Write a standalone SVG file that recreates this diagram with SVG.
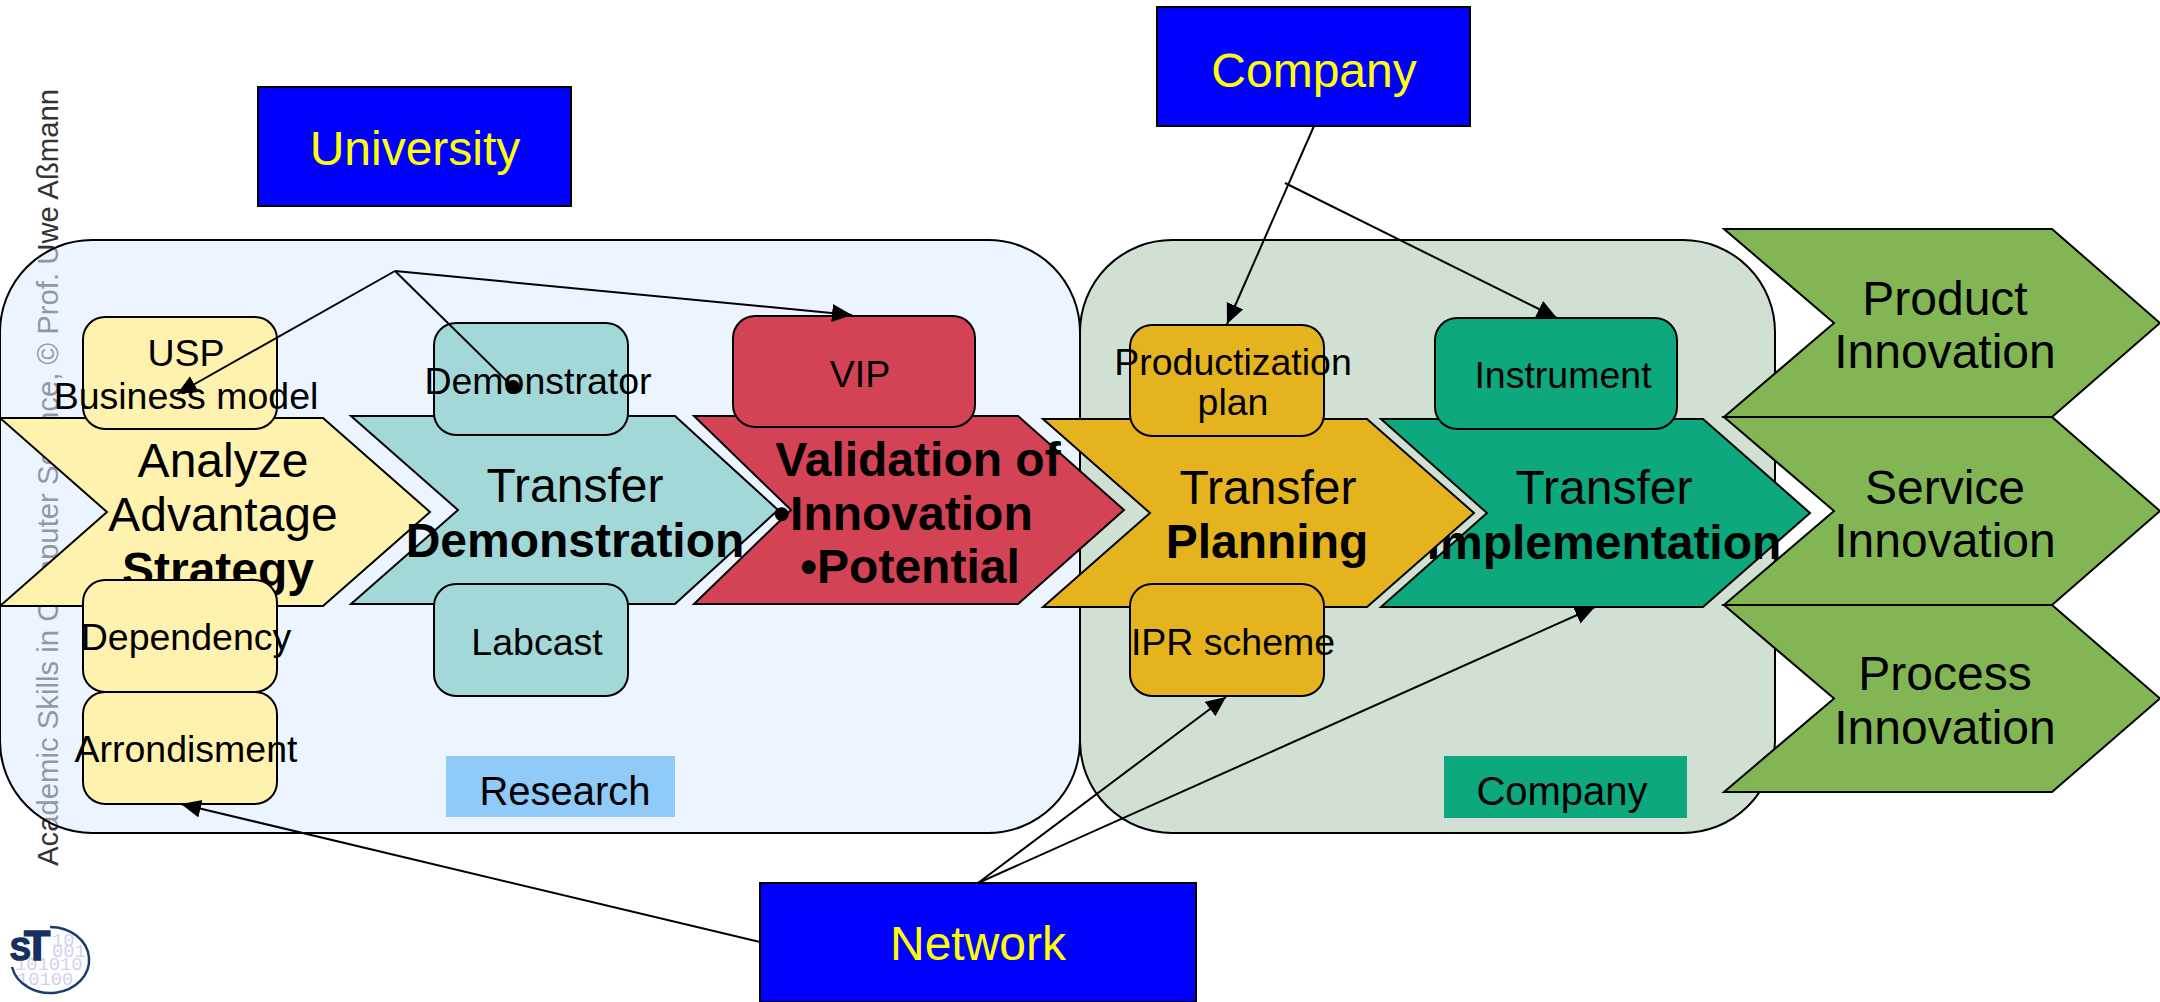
<svg xmlns="http://www.w3.org/2000/svg" width="2160" height="1002" viewBox="0 0 2160 1002">
<style>
text{font-family:"Liberation Sans",Arial,sans-serif;fill:#000;text-anchor:middle}
.big{font-size:48px}
.b{font-weight:bold}
.sm{font-size:37.5px}
.lab{font-size:40px}
.hdr{font-size:48px;fill:#ff0}
.bin{font-family:"Liberation Mono",monospace;font-size:18.8px;fill:#d4d0f2;text-anchor:start}
.st{font-weight:bold;fill:#14315f;stroke:#14315f;stroke-width:1.5;text-anchor:start}
.s{stroke:#000;stroke-width:2}
.line{fill:none;stroke:#000;stroke-width:2}
.bluebox{fill:#00f;stroke:#000;stroke-width:2}
.yel{fill:#fff2ae}.tea{fill:#a2d8d8}.red{fill:#d44355}.gol{fill:#e5b31d}.grn{fill:#0da87e}.lim{fill:#82b553}
</style>
<defs>
<marker id="arrow" markerUnits="userSpaceOnUse" markerWidth="22" markerHeight="20" refX="20" refY="9" orient="auto"><path d="M0 0L20 9L0 18Z" fill="#000"/></marker>
<marker id="dot" markerUnits="userSpaceOnUse" markerWidth="16" markerHeight="16" refX="8" refY="8" orient="auto"><circle cx="8" cy="8" r="7" fill="#000"/></marker>
<clipPath id="logoClip"><ellipse cx="50" cy="960" rx="39" ry="33"/></clipPath>
</defs>
<rect width="2160" height="1002" fill="#fff"/>
<g id="footer-credit"><text x="0" y="0" transform="translate(58 866) rotate(-90)" style="font-size:29.3px;text-anchor:start;fill:#333">Academic Skills in Computer Science, © Prof. Uwe Aßmann</text></g>
<g id="logo">
<g clip-path="url(#logoClip)">
<text class="bin" x="52" y="946">10</text>
<text class="bin" x="52" y="957">001</text>
<text class="bin" x="15" y="970">101010</text>
<text class="bin" x="17" y="985">10100</text>
</g>
<path d="M50 927A39 33 0 1 1 12 967" fill="none" stroke="#1c3d6e" stroke-width="2.5"/>
<text class="st" x="10" y="960" style="font-size:31px">S</text>
<text class="st" x="24" y="960" style="font-size:43px">T</text>
</g>
<g id="region-research"><rect x="0" y="240" width="1080" height="593" rx="92" ry="92" fill="#dcebff" fill-opacity=".55" stroke="#000" stroke-width="2"/></g>
<g id="region-company"><rect x="1080" y="240" width="695" height="593" rx="92" ry="92" fill="#d0e0d2" stroke="#000" stroke-width="2"/></g>
<g id="label-research"><rect x="446" y="756" width="229" height="61" fill="#90caf9"/><text class="lab" x="565" y="805">Research</text></g>
<g id="label-company"><rect x="1444" y="756" width="243" height="62" fill="#0da87e"/><text class="lab" x="1562" y="805">Company</text></g>
<g id="step-analyze"><path class="yel s" d="M0 418H323L430 512L323 606H0L107 512Z"/>
<text class="big" x="223" y="477">Analyze</text><text class="big" x="223" y="531">Advantage</text><text class="big b" x="218" y="586">Strategy</text></g>
<g id="step-demonstration"><path class="tea s" d="M351 416H675L778 510L675 604H351L458 510Z"/>
<text class="big" x="575" y="502">Transfer</text><text class="big b" x="575" y="557">Demonstration</text></g>
<g id="step-validation"><path class="red s" d="M694 416H1018L1124 510L1018 604H694L791 510Z"/>
<text class="big b" x="918" y="476">Validation of</text><text class="big b" x="903" y="530">•Innovation</text><text class="big b" x="910" y="583">•Potential</text></g>
<g id="step-implementation"><path class="grn s" d="M1381 419H1703L1810 513L1703 607H1381L1487 513Z"/>
<text class="big" x="1604" y="504">Transfer</text><text class="big b" x="1604" y="559">Implementation</text></g>
<g id="step-planning"><path class="gol s" d="M1043 419H1367L1474 513L1367 607H1043L1150 513Z"/>
<text class="big" x="1268" y="504">Transfer</text><text class="big b" x="1267" y="558">Planning</text></g>
<g id="outcome-product"><path class="lim s" d="M1724 229H2052L2160 323L2052 417H1724L1834 323Z"/>
<text class="big" x="1945" y="315">Product</text><text class="big" x="1945" y="368">Innovation</text></g>
<g id="outcome-service"><path class="lim s" d="M1724 417H2052L2160 511L2052 605H1724L1834 511Z"/>
<text class="big" x="1945" y="504">Service</text><text class="big" x="1945" y="557">Innovation</text></g>
<g id="outcome-process"><path class="lim s" d="M1724 605H2052L2160 698.500L2052 792H1724L1834 698.500Z"/>
<text class="big" x="1945" y="690">Process</text><text class="big" x="1945" y="744">Innovation</text></g>
<g id="box-usp"><rect class="yel s" x="83" y="317" width="194" height="112" rx="22"/><text class="sm" x="186" y="366">USP</text><text class="sm" x="186" y="409">Business model</text></g>
<g id="box-demonstrator"><rect class="tea s" x="434" y="323" width="194" height="112" rx="22"/><text class="sm" x="538" y="394">Demonstrator</text></g>
<g id="box-labcast"><rect class="tea s" x="434" y="584" width="194" height="112" rx="22"/><text class="sm" x="537" y="655">Labcast</text></g>
<g id="box-dependency"><rect class="yel s" x="83" y="580" width="194" height="112" rx="22"/><text class="sm" x="186" y="650">Dependency</text></g>
<g id="box-arrondisment"><rect class="yel s" x="83" y="692" width="194" height="112" rx="22"/><text class="sm" x="186" y="762">Arrondisment</text></g>
<g id="box-vip"><rect class="red s" x="733" y="316" width="242" height="111" rx="22"/><text class="sm" x="860" y="387">VIP</text></g>
<g id="box-productization"><rect class="gol s" x="1130" y="325" width="194" height="111" rx="22"/><text class="sm" x="1233" y="375">Productization</text><text class="sm" x="1233" y="415">plan</text></g>
<g id="box-ipr"><rect class="gol s" x="1130" y="584" width="194" height="112" rx="22"/><text class="sm" x="1233" y="655">IPR scheme</text></g>
<g id="box-instrument"><rect class="grn s" x="1435" y="318" width="242" height="111" rx="22"/><text class="sm" x="1563" y="388">Instrument</text></g>
<g id="actor-university"><rect class="bluebox" x="258" y="87" width="313" height="119"/><text class="hdr" x="415" y="165">University</text></g>
<g id="actor-company"><rect class="bluebox" x="1157" y="7" width="313" height="119"/><text class="hdr" x="1314" y="87">Company</text></g>
<g id="actor-network"><rect class="bluebox" x="760" y="883" width="436" height="119"/><text class="hdr" x="978" y="960">Network</text></g>
<g id="connectors">
<line class="line" x1="395" y1="271" x2="177" y2="394" marker-end="url(#arrow)"/>
<line class="line" x1="395" y1="271" x2="513" y2="387" marker-end="url(#dot)"/>
<line class="line" x1="395" y1="271" x2="852" y2="315" marker-end="url(#arrow)"/>
<line class="line" x1="1314" y1="126" x2="1227" y2="324" marker-end="url(#arrow)"/>
<line class="line" x1="1285" y1="183" x2="1557" y2="318" marker-end="url(#arrow)"/>
<line class="line" x1="978" y1="883" x2="1226" y2="697" marker-end="url(#arrow)"/>
<line class="line" x1="978" y1="883" x2="1595" y2="607" marker-end="url(#arrow)"/>
<line class="line" x1="760" y1="942" x2="181" y2="804" marker-end="url(#arrow)"/>
</g>
</svg>
